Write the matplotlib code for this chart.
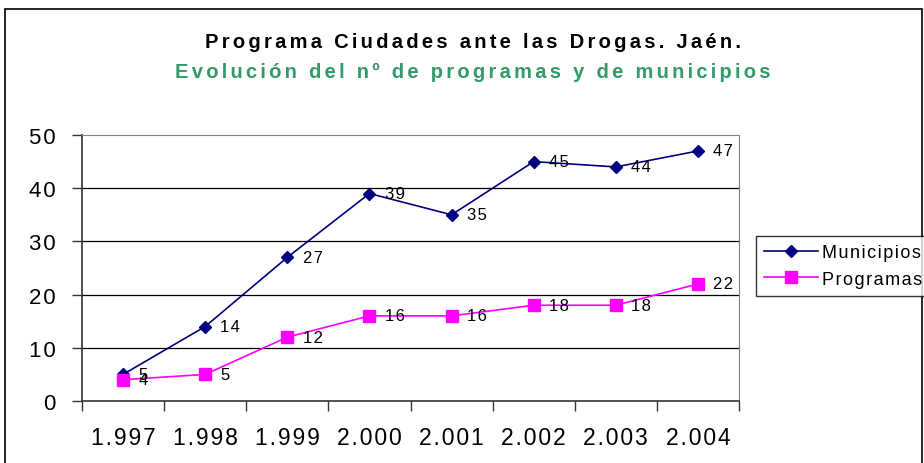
import matplotlib.pyplot as plt
from matplotlib.patches import Rectangle

years = ["1.997", "1.998", "1.999", "2.000", "2.001", "2.002", "2.003", "2.004"]
municipios = [5, 14, 27, 39, 35, 45, 44, 47]
programas = [4, 5, 12, 16, 16, 18, 18, 22]

plt.rcParams['font.family'] = ['Liberation Sans', 'DejaVu Sans']

HAIR = '\u200a'


def spaced(s, gap=HAIR):
    # old Excel charts draw text with wide letter spacing
    return gap.join(s)


fig = plt.figure(figsize=(9.24, 4.64), dpi=100)
ax = fig.add_axes([82 / 924, 62 / 464, 657 / 924, 266 / 464])

# outer chart frame
fig.patches.append(Rectangle((5 / 924, -0.01), 917 / 924, 1 - 10 / 464 + 0.01,
                             transform=fig.transFigure, fill=False,
                             edgecolor='black', linewidth=1.2))

x = list(range(len(years)))
ax.plot(x, municipios, color='#000080', marker='D', markersize=6.5,
        linewidth=1.2, label=spaced('Municipios'))
ax.plot(x, programas, color='#FF00FF', marker='s', markersize=8.5,
        linewidth=1.2, label=spaced('Programas'))

for xi, v in zip(x, municipios):
    ax.annotate(spaced(str(v)), (xi, v), xytext=(11, 0), textcoords='offset points',
                va='center', ha='left', fontsize=12)
for xi, v in zip(x, programas):
    ax.annotate(spaced(str(v)), (xi, v), xytext=(11, 0), textcoords='offset points',
                va='center', ha='left', fontsize=12)

ax.set_xlim(-0.5, len(years) - 0.5)
ax.set_ylim(0, 50)
ax.set_yticks(range(0, 51, 10))
ax.set_yticklabels([spaced(str(t)) for t in range(0, 51, 10)])
ax.set_xticks([i - 0.5 for i in range(len(years) + 1)])
ax.set_xticklabels([])
ax.set_xticks(x, minor=True)
ax.set_xticklabels([spaced(y) for y in years], minor=True, fontsize=16.5)
ax.tick_params(axis='x', which='major', direction='out', length=7, width=1, color='#333333')
ax.tick_params(axis='x', which='minor', length=0, pad=18)
ax.tick_params(axis='y', direction='out', length=7, width=1, color='#333333',
               labelsize=16, pad=12)

for yv in range(10, 50, 10):
    ax.axhline(yv, color='black', linewidth=0.9, zorder=0)

for side in ['top', 'right']:
    ax.spines[side].set_color('#808080')
for side in ['left', 'bottom']:
    ax.spines[side].set_color('#333333')
    ax.spines[side].set_linewidth(1.2)

fig.text(0.512, 1 - 42 / 464, spaced("Programa Ciudades ante las Drogas. Jaén.", HAIR * 2),
         ha='center', va='center', fontsize=14.5, fontweight='bold', color='black')
fig.text(0.512, 1 - 72 / 464, spaced("Evolución del nº de programas y de municipios", HAIR * 2),
         ha='center', va='center', fontsize=14.5, fontweight='bold', color='#339966')

leg = fig.legend(loc='center left', bbox_to_anchor=(756 / 924, 1 - 267 / 464),
                 frameon=True, fancybox=False, edgecolor='black', fontsize=13,
                 handlelength=3, borderpad=0.45, labelspacing=0.5, handletextpad=0.2,
                 borderaxespad=0)
leg.get_frame().set_linewidth(1)

fig.savefig('out.png', dpi=100)
